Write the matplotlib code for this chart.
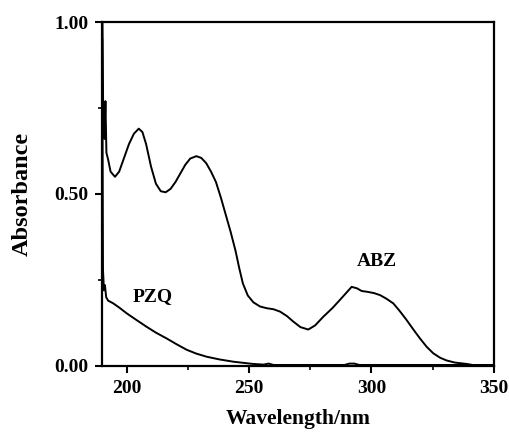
import matplotlib
matplotlib.use("Agg")
import matplotlib.pyplot as plt
from matplotlib.ticker import MultipleLocator, FormatStrFormatter

abz_wl = [190.2, 190.5, 191.0, 191.4, 191.8, 192.5, 193.5, 195.3, 197, 199, 201, 203, 205, 206.5,
          208, 210, 212, 214, 216, 218, 220, 222, 224, 226, 228.5, 230.5, 232.5, 234.5, 236.5,
          238.5, 240.5, 242.5, 244.5, 246, 247.5, 249.5, 251.8, 254.5, 257.2, 260, 262.7, 265.5,
          268.1, 271, 274.2, 277, 280.3, 284, 287.1, 290, 291.9, 294, 296, 298, 301, 303.5, 306,
          308.9, 311.5, 314.3, 317, 319.8, 322.5, 325.2, 328, 330.7, 334, 338.8, 342, 350]
abz_abs = [1.0, 0.72, 0.66, 0.77, 0.62, 0.60, 0.565, 0.55, 0.565, 0.605, 0.645, 0.675, 0.69, 0.68,
           0.645, 0.58, 0.53, 0.508, 0.505, 0.515, 0.535, 0.56, 0.585, 0.603, 0.61, 0.605, 0.59,
           0.565, 0.535, 0.49, 0.44, 0.39, 0.335, 0.285, 0.24, 0.205, 0.185, 0.173, 0.168, 0.165,
           0.158, 0.145, 0.129, 0.113, 0.106, 0.118, 0.143, 0.168, 0.192, 0.215, 0.23, 0.226,
           0.218, 0.216, 0.212, 0.206, 0.196, 0.182, 0.16, 0.134, 0.107, 0.08, 0.056, 0.037,
           0.024, 0.016, 0.01, 0.006, 0.002, 0.002]

pzq_wl = [190.1, 190.4, 190.8, 191.2, 191.7, 192.5, 194.6, 197, 200.1, 204, 208.2, 212, 216.4,
          220.5, 224.6, 228.5, 232.7, 238, 243.6, 251.6, 256, 258, 260, 270, 289, 291, 293, 295,
          310, 330, 350]
pzq_abs = [0.95, 0.28, 0.22, 0.235, 0.20, 0.19, 0.182, 0.17, 0.153, 0.134, 0.114, 0.097, 0.08,
           0.063, 0.047, 0.036, 0.027, 0.019, 0.0125, 0.006, 0.004, 0.007, 0.003, 0.003, 0.003,
           0.007, 0.007, 0.003, 0.003, 0.003, 0.003]

labels = ["ABZ", "PZQ"]
label_pos = [(302.2, 0.305), (210.8, 0.203)]

plt.rcParams['font.family'] = ['Liberation Serif', 'DejaVu Serif']
plt.rcParams['font.weight'] = 'bold'

fig = plt.figure(figsize=(5.09, 4.34), dpi=100)
ax = fig.add_axes([0.2004, 0.1567, 0.7701, 0.7926])

ax.plot(abz_wl, abz_abs, color='black', lw=1.4)
ax.plot(pzq_wl, pzq_abs, color='black', lw=1.4)

for t, (x, y) in zip(labels, label_pos):
    ax.text(x, y, t, fontsize=14, fontweight='bold', ha='center', va='center')

ax.set_xlim(190, 350)
ax.set_ylim(0, 1.0)
ax.set_xticks([200, 250, 300, 350])
ax.xaxis.set_minor_locator(MultipleLocator(25))
ax.yaxis.set_major_locator(MultipleLocator(0.5))
ax.yaxis.set_minor_locator(MultipleLocator(0.25))
ax.yaxis.set_major_formatter(FormatStrFormatter('%.2f'))

ax.tick_params(which='major', direction='out', length=5, width=1.5, labelsize=14, pad=5)
ax.tick_params(which='minor', direction='out', length=3, width=1.2)
for s in ax.spines.values():
    s.set_linewidth(1.6)
for lab in ax.get_xticklabels() + ax.get_yticklabels():
    lab.set_fontweight('bold')

ax.set_xlabel('Wavelength/nm', fontsize=15.5, fontweight='bold', labelpad=9)
ax.set_ylabel('Absorbance', fontsize=17.5, fontweight='bold', labelpad=15)

fig.savefig('out.png', dpi=100)
